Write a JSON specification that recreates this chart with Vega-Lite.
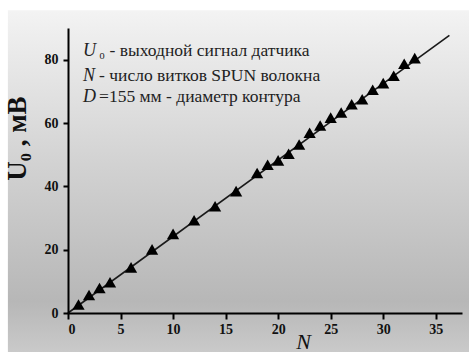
{
  "$schema": "https://vega.github.io/schema/vega-lite/v6.json",
  "width": 394,
  "height": 285,
  "autosize": "none",
  "padding": {"left": 68, "top": 28, "right": 7, "bottom": 39},
  "background": "white",
  "config": {
    "view": {"stroke": null},
    "font": "Liberation Serif"
  },
  "datasets": {
    "points": [
      {"N": 1, "U": 2.7}, {"N": 2, "U": 5.7}, {"N": 3, "U": 7.9}, {"N": 4, "U": 9.7},
      {"N": 6, "U": 14.4}, {"N": 8, "U": 20.1}, {"N": 10, "U": 25.0}, {"N": 12, "U": 29.3},
      {"N": 14, "U": 33.7}, {"N": 16, "U": 38.5}, {"N": 18, "U": 44.2}, {"N": 19, "U": 46.8},
      {"N": 20, "U": 48.2}, {"N": 21, "U": 50.3}, {"N": 22, "U": 53.2}, {"N": 23, "U": 56.9},
      {"N": 24, "U": 59.2}, {"N": 25, "U": 61.7}, {"N": 26, "U": 63.3}, {"N": 27, "U": 65.9},
      {"N": 28, "U": 67.5}, {"N": 29, "U": 70.5}, {"N": 30, "U": 72.6}, {"N": 31, "U": 74.9},
      {"N": 32, "U": 78.7}, {"N": 33, "U": 80.5}
    ],
    "fit": [{"N": 0, "U": 0}, {"N": 36.3, "U": 87.7}],
    "notes": [
      {"N": 1.43, "U": 82.6, "sym": "U", "rest": "₀ - выходной сигнал датчика"},
      {"N": 1.43, "U": 75.0, "sym": "N", "rest": "- число витков SPUN волокна"},
      {"N": 1.43, "U": 68.1, "sym": "D", "rest": "=155 мм - диаметр контура"}
    ],
    "bg": [{"N": -5.72, "N2": 38.3, "U": -12.6, "U2": 95.6}]
  },
  "layer": [
    {
      "data": {"name": "bg"},
      "mark": {
        "type": "rect",
        "clip": false,
        "fill": {
          "gradient": "linear", "x1": 0, "y1": 0, "x2": 0, "y2": 1,
          "stops": [
            {"offset": 0, "color": "#f3f3f3"},
            {"offset": 0.45, "color": "#d2d2d2"},
            {"offset": 0.85, "color": "#b7b7b7"},
            {"offset": 1, "color": "#cacaca"}
          ]
        }
      },
      "encoding": {
        "x": {
          "field": "N", "type": "quantitative",
          "scale": {"domain": [0, 37.5], "nice": false, "zero": false},
          "axis": {
            "zindex": 2,
            "values": [0, 2.5, 5, 7.5, 10, 12.5, 15, 17.5, 20, 22.5, 25, 27.5, 30, 32.5, 35, 37.5],
            "labelExpr": "datum.value % 5 === 0 ? datum.label : ''",
            "title": "N",
            "titleFont": "Liberation Serif",
            "titleFontStyle": "italic",
            "titleFontWeight": "normal",
            "titleFontSize": 22,
            "titleColor": "#111",
            "titleX": 235,
            "titleY": 28,
            "titleBaseline": "middle",
            "domainColor": "#000",
            "domainWidth": 2,
            "tickColor": "#000",
            "tickWidth": 2,
            "tickSize": {"expr": "datum.value % 5 === 0 ? 6 : 4"},
            "labelFont": "Liberation Serif",
            "labelFontWeight": "bold",
            "labelFontSize": 14,
            "labelColor": "#111",
            "labelPadding": 3,
            "grid": false
          }
        },
        "x2": {"field": "N2"},
        "y": {
          "field": "U", "type": "quantitative",
          "scale": {"domain": [0, 90], "nice": false, "zero": false},
          "axis": {
            "zindex": 2,
            "values": [0, 10, 20, 30, 40, 50, 60, 70, 80, 90],
            "labelExpr": "datum.value % 20 === 0 && datum.value < 90 ? datum.label : ''",
            "title": "U₀ , мВ",
            "titleFont": "Liberation Serif",
            "titleFontWeight": "bold",
            "titleFontSize": 27,
            "titleColor": "#111",
            "titleX": -37,
            "titleY": 110,
            "titleAlign": "center",
            "domainColor": "#000",
            "domainWidth": 2,
            "tickColor": "#000",
            "tickWidth": 2,
            "tickSize": {"expr": "datum.value % 20 === 0 ? 5 : 3"},
            "labelFont": "Liberation Serif",
            "labelFontWeight": "bold",
            "labelFontSize": 14,
            "labelColor": "#111",
            "labelPadding": 5,
            "grid": false
          }
        },
        "y2": {"field": "U2"}
      }
    },
    {
      "data": {"name": "fit"},
      "mark": {"type": "line", "color": "#1a1a1a", "strokeWidth": 1.6},
      "encoding": {
        "x": {"field": "N", "type": "quantitative"},
        "y": {"field": "U", "type": "quantitative"}
      }
    },
    {
      "data": {"name": "points"},
      "mark": {"type": "point", "shape": "triangle-up", "filled": true, "color": "#000", "size": 150, "opacity": 1},
      "encoding": {
        "x": {"field": "N", "type": "quantitative"},
        "y": {"field": "U", "type": "quantitative"}
      }
    },
    {
      "data": {"name": "notes"},
      "mark": {"type": "text", "align": "left", "baseline": "middle", "font": "Liberation Serif", "fontStyle": "italic", "fontSize": 18, "color": "#222"},
      "encoding": {
        "x": {"field": "N", "type": "quantitative"},
        "y": {"field": "U", "type": "quantitative"},
        "text": {"field": "sym"}
      }
    },
    {
      "data": {"name": "notes"},
      "mark": {"type": "text", "align": "left", "baseline": "middle", "font": "Liberation Serif", "fontSize": 17.5, "color": "#222", "dx": 16},
      "encoding": {
        "x": {"field": "N", "type": "quantitative"},
        "y": {"field": "U", "type": "quantitative"},
        "text": {"field": "rest"}
      }
    }
  ]
}
